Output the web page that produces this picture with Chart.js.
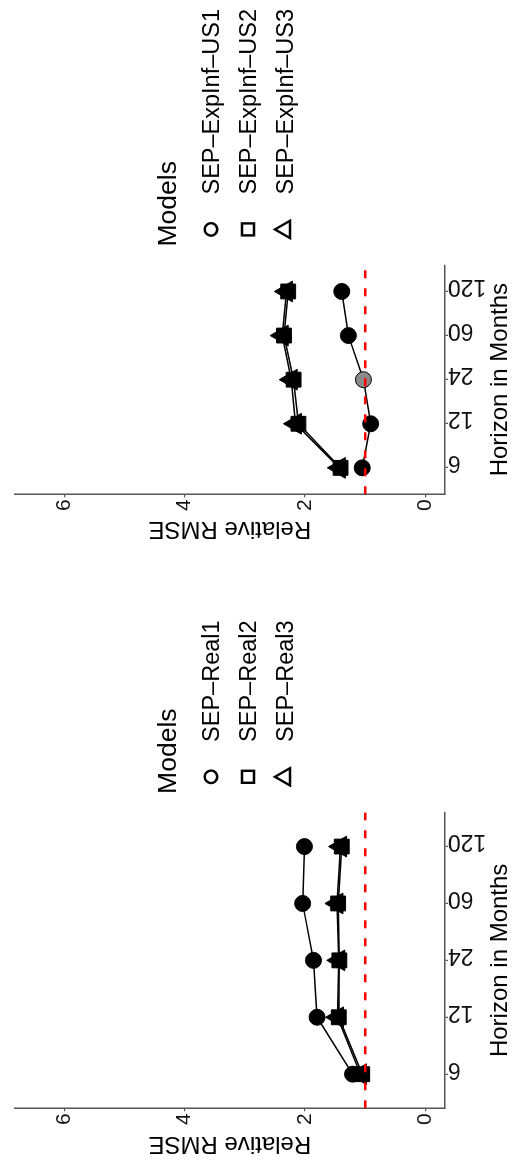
<!DOCTYPE html>
<html>
<head>
<meta charset="utf-8">
<title>Relative RMSE by horizon</title>
<script src="https://cdn.jsdelivr.net/npm/chart.js@4.4.1/dist/chart.umd.min.js"></script>
<style>
html, body { margin: 0; padding: 0; overflow: hidden; background: #fff; }
/* the figure is drawn upright (1164 x 513) and then turned a quarter left */
#wrap {
    position: absolute; left: 0; top: 0;
    width: 1164px; height: 513px;
    transform-origin: 0 0;
    transform: translate(0, 1164px) rotate(-90deg);
}
#wrap canvas { position: absolute; top: 0; }
#real { left: 0; }
#us { left: 582px; }
</style>
</head>
<body>
<div id="wrap">
    <canvas id="real" width="582" height="513"></canvas>
    <canvas id="us" width="582" height="513"></canvas>
</div>
<script>
// datos
const horizons = ['6', '12', '24', '60', '120'];

const realNames = ['SEP–Real1', 'SEP–Real2', 'SEP–Real3'];
const real1 = [1.21, 1.80, 1.86, 2.04, 2.01];
const real2 = [1.05, 1.44, 1.43, 1.45, 1.39];
const real3 = [1.08, 1.46, 1.44, 1.47, 1.41];
const realSignif1 = [true, true, true, true, true];
const realSignif2 = [true, true, true, true, true];
const realSignif3 = [true, true, true, true, true];

const usNames = ['SEP–ExpInf–US1', 'SEP–ExpInf–US2', 'SEP–ExpInf–US3'];
const us1 = [1.05, 0.91, 1.03, 1.28, 1.39];
const us2 = [1.41, 2.11, 2.19, 2.35, 2.28];
const us3 = [1.43, 2.16, 2.23, 2.38, 2.31];
const usSignif1 = [true, true, false, true, true];
const usSignif2 = [true, true, true, true, true];
const usSignif3 = [true, true, true, true, true];

const refValue = 1;
const yMin = -0.325, yMax = 6.825;
const xMin = -0.6, xMax = 4.6;

// estilos
const family = '"Liberation Sans", Arial, Helvetica, sans-serif';
const axisColor = '#555555';
const pointStyles = ['circle', 'rect', 'triangle'];
const pointSizes = [8, 10.5, 12];

// leyenda a la derecha del panel, con simbolos huecos
const sideLegend = {
    id: 'sideLegend',
    afterDraw(chart, args, opts) {
        const ctx = chart.ctx;
        const x0 = chart.chartArea.right;
        ctx.save();
        ctx.fillStyle = '#000';
        ctx.strokeStyle = '#000';
        ctx.textAlign = 'left';
        ctx.textBaseline = 'alphabetic';
        ctx.font = '26.5px ' + family;
        ctx.fillText(opts.title, x0 + 18.5, 175.5);
        ctx.font = '23.5px ' + family;
        opts.labels.forEach(function (label, i) {
            const y = 211 + i * 37;
            const x = x0 + 35.6;
            ctx.lineWidth = 2.4;
            ctx.beginPath();
            if (pointStyles[i] === 'circle') {
                ctx.arc(x, y, 6.3, 0, Math.PI * 2);
            } else if (pointStyles[i] === 'rect') {
                ctx.rect(x - 6, y - 6, 12, 12);
            } else {
                ctx.moveTo(x, y - 10);
                ctx.lineTo(x + 8.66, y + 5);
                ctx.lineTo(x - 8.66, y + 5);
                ctx.closePath();
            }
            ctx.stroke();
            ctx.fillText(label, x0 + 70.5, y + 8.3);
        });
        ctx.restore();
    }
};

function makeChart(id, names, series, signif, box) {
    const datasets = series.map(function (values, s) {
        return {
            label: names[s],
            data: values.map(function (v, i) { return { x: i, y: v }; }),
            borderColor: '#000',
            borderWidth: 1.5,
            pointStyle: pointStyles[s],
            pointRadius: pointSizes[s],
            pointBorderWidth: 1,
            pointBorderColor: '#000',
            pointBackgroundColor: values.map(function (v, i) { return signif[s][i] ? '#000' : '#8a8a8a'; }),
            order: 1
        };
    });
    // linea de referencia (RMSE relativo = 1)
    datasets.push({
        label: 'ref',
        data: [{ x: xMin, y: refValue }, { x: xMax, y: refValue }],
        borderColor: '#ff0000',
        borderWidth: 2.6,
        borderDash: [8, 10],
        pointRadius: 0,
        order: 0
    });

    return new Chart(document.getElementById(id).getContext('2d'), {
        type: 'line',
        data: { datasets: datasets },
        options: {
            responsive: false,
            animation: false,
            devicePixelRatio: 1,
            layout: { padding: { left: box.padLeft, right: box.padRight, top: 11.7, bottom: 1 } },
            plugins: {
                legend: { display: false },
                tooltip: { enabled: false },
                sideLegend: { title: 'Models', labels: names }
            },
            scales: {
                x: {
                    type: 'linear',
                    min: xMin,
                    max: xMax,
                    afterFit: function (scale) { scale.height = 67; },
                    ticks: {
                        stepSize: 1,
                        includeBounds: false,
                        autoSkip: false,
                        minRotation: 90,
                        maxRotation: 90,
                        padding: 0,
                        labelOffset: 5,
                        color: '#111',
                        font: { family: family, size: 23 },
                        callback: function (v) { return horizons[v]; }
                    },
                    grid: { display: true, drawOnChartArea: false, drawTicks: true, tickLength: 3, color: axisColor, lineWidth: 1.2 },
                    border: { display: true, color: axisColor, width: 1.5 },
                    title: { display: true, text: 'Horizon in Months', color: '#000', padding: 0, font: { family: family, size: 24, lineHeight: 1 } }
                },
                y: {
                    type: 'linear',
                    min: yMin,
                    max: yMax,
                    afterFit: function (scale) { scale.width = box.yWidth; },
                    ticks: {
                        stepSize: 2,
                        includeBounds: false,
                        padding: 2,
                        color: '#111',
                        font: { family: family, size: 21 }
                    },
                    grid: { display: true, drawOnChartArea: false, drawTicks: true, tickLength: 3, color: axisColor, lineWidth: 1.2 },
                    border: { display: true, color: axisColor, width: 1.5 },
                    title: { display: true, text: 'Relative RMSE', color: '#000', padding: 0, font: { family: family, size: 24, lineHeight: 1 } }
                }
            }
        },
        plugins: [sideLegend]
    });
}

makeChart('real', realNames, [real1, real2, real3], [realSignif1, realSignif2, realSignif3],
    { padLeft: 7.9, yWidth: 47.8, padRight: 230.4 });
makeChart('us', usNames, [us1, us2, us3], [usSignif1, usSignif2, usSignif3],
    { padLeft: 40.9, yWidth: 46.8, padRight: 265 });
</script>
</body>
</html>
